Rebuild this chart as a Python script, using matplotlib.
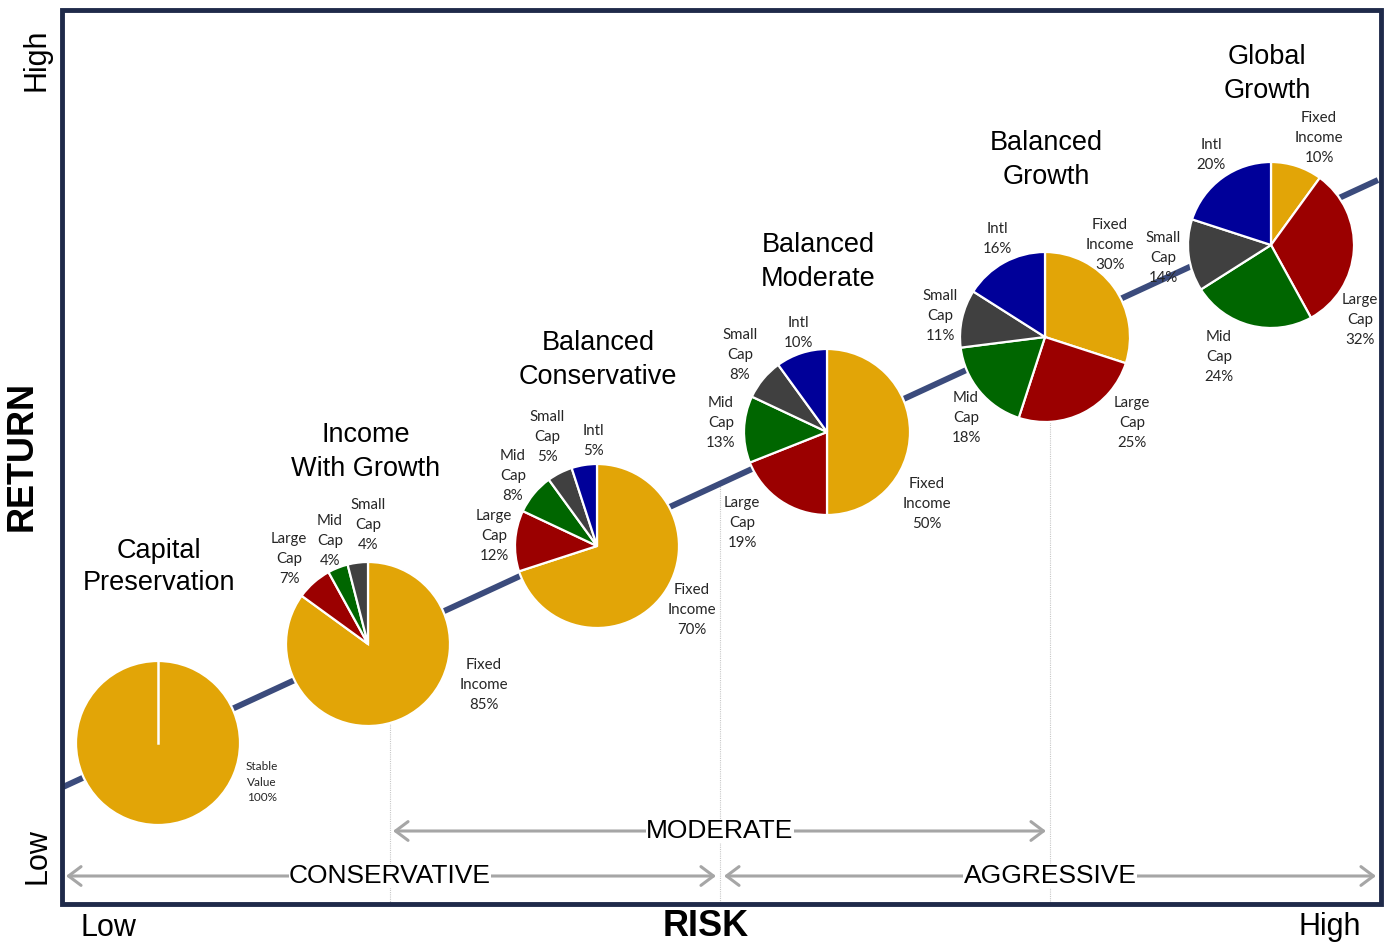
import numpy as np
import matplotlib
matplotlib.use("Agg")
import matplotlib.pyplot as plt
from matplotlib.patches import Rectangle

W, H = 1393, 944

# data
segments = ["Fixed\nIncome", "Large\nCap", "Mid\nCap", "Small\nCap", "Intl"]
seg_colors = ["#E2A507", "#9B0000", "#006600", "#404040", "#000099"]

portfolios = ["Capital\nPreservation", "Income\nWith Growth", "Balanced\nConservative",
              "Balanced\nModerate", "Balanced\nGrowth", "Global\nGrowth"]
capital_preservation = [100]          # stable value
income_with_growth = [85, 7, 4, 4, 0]
balanced_conservative = [70, 12, 8, 5, 5]
balanced_moderate = [50, 19, 13, 8, 10]
balanced_growth = [30, 25, 18, 11, 16]
global_growth = [10, 32, 24, 14, 20]

risk_bands = ["CONSERVATIVE", "MODERATE", "AGGRESSIVE"]

# layout (pixel positions, y measured from top)
centers = [(158, 743), (368, 644), (597, 546), (827, 432), (1045, 337), (1271, 245)]
radii = [82, 82, 82, 83, 85, 83]
title_pos = [(159, 567), (366, 452), (598, 360), (818, 262), (1046, 160), (1267, 74)]
label_pos = [
    [(262, 782)],
    [(484, 685), (289, 559), (330, 541), (368, 525), None],
    [(692, 610), (494, 536), (513, 476), (547, 437), (593, 441)],
    [(927, 504), (742, 523), (721, 423), (740, 355), (798, 333)],
    [(1110, 245), (1132, 423), (966, 418), (940, 316), (997, 239)],
    [(1319, 138), (1360, 320), (1219, 357), (1163, 258), (1211, 155)],
]
band_pos = [(390, 876, 66, 716), (720, 831, 393, 1046), (1050, 876, 724, 1376)]


def py(y):
    return H - y


fig = plt.figure(figsize=(W / 100, H / 100), dpi=100)
ax = fig.add_axes([0, 0, 1, 1])

# trend line
tx = np.array([63, 1378])
ty = np.array([787, 180])
ax.plot(tx, py(ty), color="#3B4B7C", lw=4.3, zorder=1, solid_capstyle="butt")
slope = (ty[1] - ty[0]) / (tx[1] - tx[0])

# dotted verticals
for xc, _, _, _ in band_pos:
    ytop = ty[0] + slope * (xc - tx[0])
    ax.plot([xc, xc], [py(ytop), py(904)], color="#C8C8C8", lw=0.8, ls=(0, (1, 1)), zorder=0.5)

allocs = [capital_preservation, income_with_growth, balanced_conservative,
          balanced_moderate, balanced_growth, global_growth]

for i, vals in enumerate(allocs):
    cx, cy = centers[i]
    keep = [j for j, v in enumerate(vals) if v > 0]
    ax.pie([vals[j] for j in keep], colors=[seg_colors[j] for j in keep],
           startangle=90, counterclock=False, center=(cx, py(cy)), radius=radii[i],
           wedgeprops=dict(edgecolor="white", linewidth=1.6), frame=True)
    # labels
    if i == 0:
        # single slice: seam line at 12 o'clock
        ax.plot([cx, cx], [py(cy), py(cy) + radii[i]], color="white", lw=1.8, zorder=2)
        lx, ly = label_pos[0][0]
        ax.text(lx, py(ly), "Stable\nValue\n100%", ha="center", va="center",
                fontsize=8.5, family="Lato", color="#262626", linespacing=1.55, zorder=5)
    else:
        for j in keep:
            lx, ly = label_pos[i][j]
            ax.text(lx, py(ly), f"{segments[j]}\n{vals[j]}%", ha="center", va="center",
                    fontsize=10.8, family="Lato", color="#262626", linespacing=1.55, zorder=5)
    tx_, ty_ = title_pos[i]
    ax.text(tx_, py(ty_), portfolios[i], ha="center", va="center", fontsize=19.5,
            family="Liberation Sans", color="black", linespacing=1.35, zorder=5)

# risk band arrows
for name, (xc, yb, x0, x1) in zip(risk_bands, band_pos):
    ax.annotate("", xy=(x0, py(yb)), xytext=(x1, py(yb)),
                arrowprops=dict(arrowstyle="<->,head_length=0.6,head_width=0.45",
                                color="#A6A6A6", lw=2.2, mutation_scale=15,
                                shrinkA=0, shrinkB=0), zorder=3)
    ax.text(xc, py(yb), name, ha="center", va="center", fontsize=19,
            family="Liberation Sans", color="black", zorder=4,
            bbox=dict(fc="white", ec="none", pad=0.2))

# frame
ax.add_patch(Rectangle((62, py(904)), 1381 - 62, 904 - 10, fill=False,
                       ec="#1F2A4A", lw=3.5, zorder=6))

# axis words
ax.text(37, py(60), "High", rotation=90, ha="center", va="center", fontsize=22,
        family="Liberation Sans")
ax.text(22, py(456), "RETURN", rotation=90, ha="center", va="center", fontsize=26,
        family="Liberation Sans", fontweight="bold")
ax.text(37, py(856), "Low", rotation=90, ha="center", va="center", fontsize=22,
        family="Liberation Sans")
ax.text(108, py(928), "Low", ha="center", va="center", fontsize=22, family="Liberation Sans")
ax.text(706, py(926), "RISK", ha="center", va="center", fontsize=26,
        family="Liberation Sans", fontweight="bold")
ax.text(1330, py(927), "High", ha="center", va="center", fontsize=22, family="Liberation Sans")

ax.set_xlim(0, W)
ax.set_ylim(0, H)
ax.set_aspect("equal")
ax.axis("off")

fig.savefig("out.png", dpi=100)
